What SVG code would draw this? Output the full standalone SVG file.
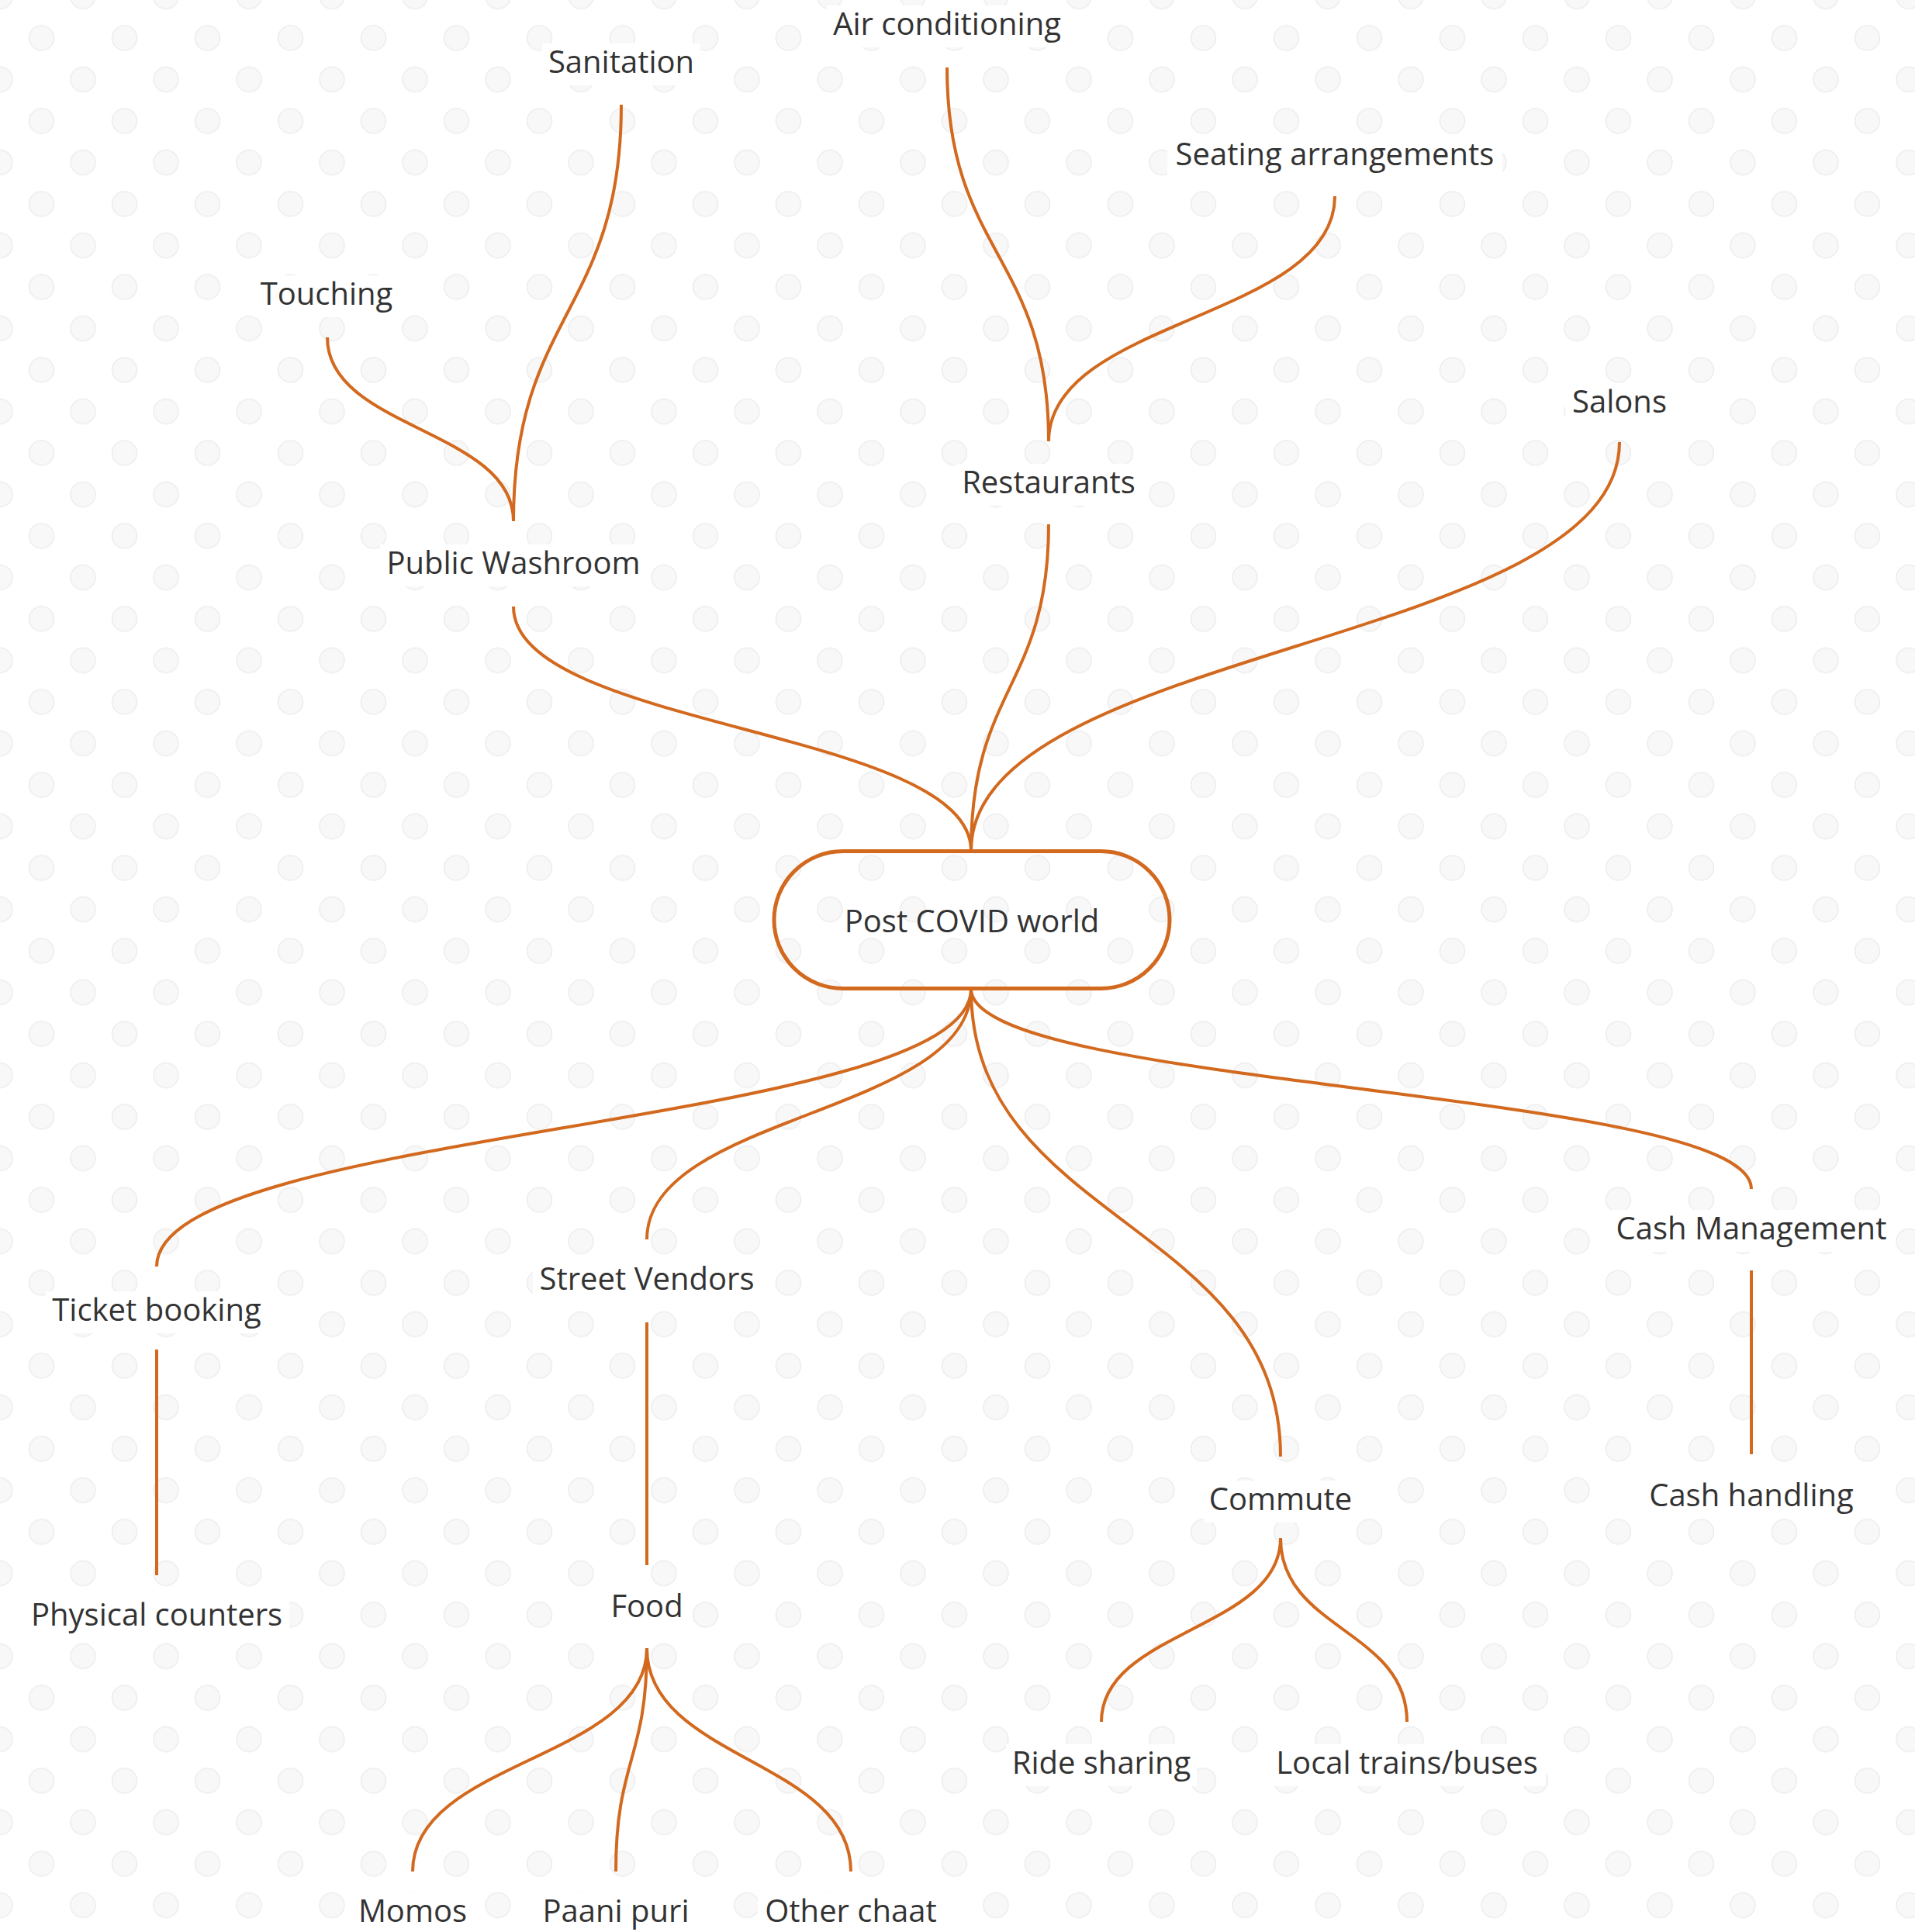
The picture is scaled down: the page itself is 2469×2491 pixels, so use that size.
<svg xmlns="http://www.w3.org/2000/svg" width="2469" height="2491" viewBox="0 0 2469 2491">
<style>
.conn{fill:none;stroke:#d2691e;stroke-width:4}
.lbl{font-family:"Open Sans","Liberation Sans",sans-serif;font-size:40px;fill:#333;text-anchor:middle}
.bg{fill:#fff}
.dot{fill:#f8f8f8;stroke:#ececec;stroke-width:1.5}
</style>
<defs>
<pattern id="dots" x="0" y="-4.5" width="107" height="107" patternUnits="userSpaceOnUse">
<circle class="dot" cx="0" cy="0" r="16"/><circle class="dot" cx="107" cy="0" r="16"/><circle class="dot" cx="0" cy="107" r="16"/><circle class="dot" cx="107" cy="107" r="16"/><circle class="dot" cx="53.5" cy="53.5" r="16"/>
</pattern>
</defs>
<rect width="2469" height="2491" fill="#fff"/>
<rect width="2469" height="2491" fill="url(#dots)"/>
<g id="connectors">
<path class="conn" d="M1252 1097 C1252 939.5 662 939.5 662 782"/>
<path class="conn" d="M1252 1097 C1252 886.5 1352 886.5 1352 676"/>
<path class="conn" d="M1252 1097 C1252 833.5 2088 833.5 2088 570"/>
<path class="conn" d="M662 672 C662 553.5 422 553.5 422 435"/>
<path class="conn" d="M662 672 C662 403.5 801 403.5 801 135"/>
<path class="conn" d="M1352 569 C1352 328 1221 328 1221 87"/>
<path class="conn" d="M1352 569 C1352 411 1721 411 1721 253"/>
<path class="conn" d="M1252 1275 C1252 1454 202 1454 202 1633"/>
<path class="conn" d="M1252 1275 C1252 1436.5 834 1436.5 834 1598"/>
<path class="conn" d="M1252 1275 C1252 1576.5 1651 1576.5 1651 1878"/>
<path class="conn" d="M1252 1275 C1252 1404 2258 1404 2258 1533"/>
<path class="conn" d="M202 1740 L202 2031"/>
<path class="conn" d="M834 1705 L834 2018"/>
<path class="conn" d="M2258 1638 L2258 1875"/>
<path class="conn" d="M1651 1983 C1651 2101.5 1420 2101.5 1420 2220"/>
<path class="conn" d="M1651 1983 C1651 2101.5 1814 2101.5 1814 2220"/>
<path class="conn" d="M834 2125 C834 2269 532 2269 532 2413"/>
<path class="conn" d="M834 2125 C834 2269 794 2269 794 2413"/>
<path class="conn" d="M834 2125 C834 2269 1097 2269 1097 2413"/>
</g>
<g id="post-covid-world">
<rect x="998" y="1097.5" width="510" height="177" rx="88.5" fill="none" stroke="#d2691e" stroke-width="5"/>
<text class="lbl" x="1253" y="1202">Post COVID world</text>
</g>
<g id="air-conditioning"><rect class="bg" x="1066" y="7" width="311" height="54"/><text class="lbl" x="1221" y="45">Air conditioning</text></g>
<g id="sanitation"><rect class="bg" x="699" y="56" width="204" height="54"/><text class="lbl" x="801" y="94">Sanitation</text></g>
<g id="seating-arrangements"><rect class="bg" x="1505" y="175" width="432" height="54"/><text class="lbl" x="1721" y="213">Seating arrangements</text></g>
<g id="touching"><rect class="bg" x="326" y="355" width="191" height="54"/><text class="lbl" x="421" y="393">Touching</text></g>
<g id="salons"><rect class="bg" x="2018" y="494" width="139" height="54"/><text class="lbl" x="2088" y="532">Salons</text></g>
<g id="restaurants"><rect class="bg" x="1232" y="598" width="239" height="54"/><text class="lbl" x="1352" y="636">Restaurants</text></g>
<g id="public-washroom"><rect class="bg" x="490" y="702" width="345" height="54"/><text class="lbl" x="662" y="740">Public Washroom</text></g>
<g id="cash-management"><rect class="bg" x="2074" y="1560" width="368" height="54"/><text class="lbl" x="2258" y="1598">Cash Management</text></g>
<g id="street-vendors"><rect class="bg" x="687" y="1625" width="294" height="54"/><text class="lbl" x="834" y="1663">Street Vendors</text></g>
<g id="ticket-booking"><rect class="bg" x="59" y="1665" width="286" height="54"/><text class="lbl" x="202" y="1703">Ticket booking</text></g>
<g id="commute"><rect class="bg" x="1552" y="1909" width="198" height="54"/><text class="lbl" x="1651" y="1947">Commute</text></g>
<g id="cash-handling"><rect class="bg" x="2117" y="1904" width="282" height="54"/><text class="lbl" x="2258" y="1942">Cash handling</text></g>
<g id="food"><rect class="bg" x="779" y="2047" width="110" height="54"/><text class="lbl" x="834" y="2085">Food</text></g>
<g id="physical-counters"><rect class="bg" x="32" y="2058" width="341" height="54"/><text class="lbl" x="202" y="2096">Physical counters</text></g>
<g id="ride-sharing"><rect class="bg" x="1297" y="2249" width="246" height="54"/><text class="lbl" x="1420" y="2287">Ride sharing</text></g>
<g id="local-trains-buses"><rect class="bg" x="1635" y="2249" width="358" height="54"/><text class="lbl" x="1814" y="2287">Local trains/buses</text></g>
<g id="momos"><rect class="bg" x="454" y="2440" width="157" height="54"/><text class="lbl" x="532" y="2478">Momos</text></g>
<g id="paani-puri"><rect class="bg" x="689" y="2440" width="206" height="54"/><text class="lbl" x="794" y="2478">Paani puri</text></g>
<g id="other-chaat"><rect class="bg" x="977" y="2440" width="240" height="54"/><text class="lbl" x="1097" y="2478">Other chaat</text></g>
</svg>
